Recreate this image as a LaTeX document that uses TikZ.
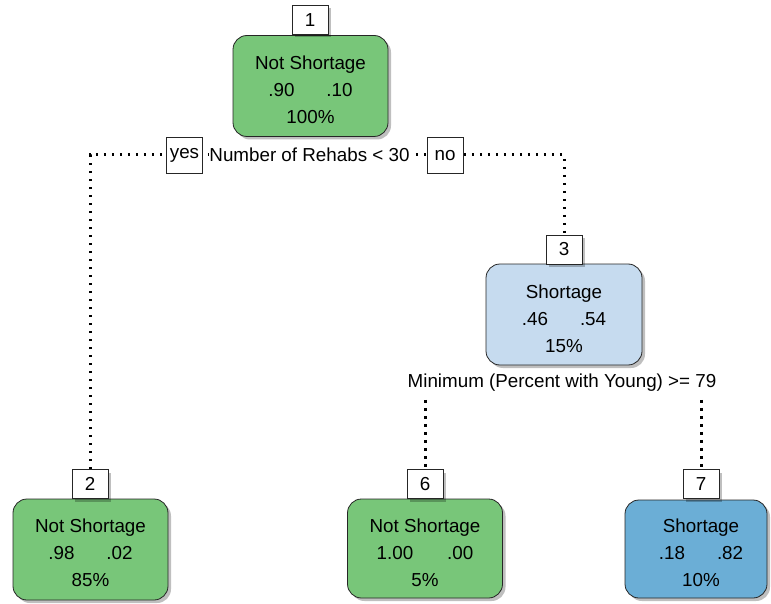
\documentclass[tikz,border=0pt]{standalone}
\usepackage{fontspec}
\setmainfont{Liberation Sans}
\usetikzlibrary{shadows}
\definecolor{leafgreen}{HTML}{78C679}
\definecolor{lightblue}{HTML}{C6DBEF}
\definecolor{midblue}{HTML}{6BAED6}
\begin{document}
\begin{tikzpicture}[x=1pt,y=-1pt,
  treebox/.style={draw=black!85, line width=0.8pt, rounded corners=14pt,
    minimum width=155pt, minimum height=101pt, inner sep=0pt,
    drop shadow={shadow xshift=3pt, shadow yshift=-3pt, fill=black, opacity=0.25}},
  boxtext/.style={inner sep=0pt, align=center, font=\fontsize{18.8}{27}\selectfont},
  numbox/.style={draw=black!85, fill=white, line width=0.7pt,
    minimum width=36pt, minimum height=29pt, inner sep=0pt,
    font=\fontsize{18.8}{20}\selectfont,
    drop shadow={shadow xshift=3pt, shadow yshift=-3pt, fill=black, opacity=0.25}},
  labbox/.style={draw=black!85, fill=white, line width=0.7pt,
    minimum height=36pt, minimum width=36pt, inner xsep=3pt,
    font=\fontsize{18.8}{20}\selectfont},
  splittext/.style={fill=white, inner xsep=0pt, inner ysep=2pt,
    font=\fontsize{18.8}{20}\selectfont},
  dotline/.style={line width=3pt, dash pattern=on 2.6pt off 5.4pt}]
\useasboundingbox (0,0) rectangle (771,604);

% main nodes
\node[treebox, fill=leafgreen] (n1) at (310.5,86) {};
\node[boxtext] (t1) at (310.5,90) {Not Shortage\\.90\hspace{32pt}.10\\100\%};
\node[numbox] (k1) at (310,20) {1};

\node[treebox, fill=lightblue, minimum width=156pt] (n3) at (564,314.5) {};
\node[boxtext] (t3) at (564,318.5) {Shortage\\.46\hspace{32pt}.54\\15\%};
\node[numbox] (k3) at (564,249.5) {3};

\node[treebox, fill=leafgreen] (n2) at (90.5,549.5) {};
\node[boxtext] (t2) at (90.5,553) {Not Shortage\\.98\hspace{32pt}.02\\85\%};
\node[numbox] (k2) at (90,484) {2};

\node[treebox, fill=leafgreen, minimum height=99pt] (n6) at (425,548.5) {};
\node[boxtext] (t6) at (425,553) {Not Shortage\\1.00\hspace{34pt}.00\\5\%};
\node[numbox] (k6) at (425,484) {6};

\node[treebox, fill=midblue, minimum width=142pt, minimum height=98pt] (n7) at (696,549) {};
\node[boxtext] (t7) at (701,553) {Shortage\\.18\hspace{32pt}.82\\10\%};
\node[numbox] (k7) at (701,484) {7};

% split texts
\coordinate (s1) at (310,155);
\node[splittext] (q3) at (562,383) {Minimum (Percent with Young) >= 79};

% connectors
\draw[dotline] (k2.north) |- (s1) -| (k3.north);
\draw[dotline] ([yshift=-6pt]q3.south -| k6.north) -- (k6.north);
\draw[dotline] ([yshift=-6pt]q3.south -| k7.north) -- (k7.north);

% labels on the first split
\node[labbox] (yes) at (184.5,155.5) {yes};
\node[splittext] (q1) at (309.5,155) {Number of Rehabs < 30};
\node[labbox] (no) at (445,155.5) {no};
\end{tikzpicture}
\end{document}
